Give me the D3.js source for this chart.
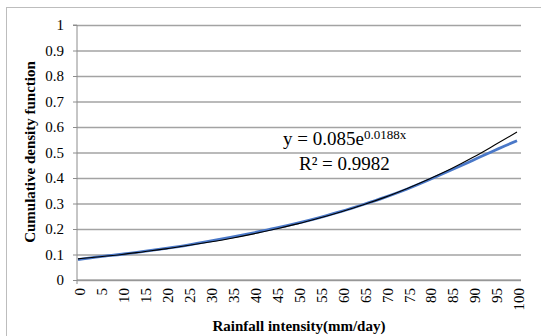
<!DOCTYPE html>
<html>
<head>
<meta charset="utf-8">
<script src="https://cdn.jsdelivr.net/npm/d3@7"></script>
<style>
  body { margin: 0; background: #fff; }
  svg, svg text { font-family: "Liberation Serif", "Times New Roman", serif !important; fill: #000; }
</style>
</head>
<body>
<script>
// categories on the x axis (rainfall intensity, mm/day)
var categories = ["0","5","10","15","20","25","30","35","40","45","50",
                  "55","60","65","70","75","80","85","90","95","100"];

// observed cumulative density (blue line)
var observed = [0.080, 0.092, 0.101, 0.112, 0.124, 0.137, 0.152, 0.168, 0.185, 0.203, 0.223,
                0.245, 0.269, 0.296, 0.325, 0.357, 0.393, 0.431, 0.470, 0.509, 0.546];

// exponential trendline (black line)
var trend = [0.083, 0.091, 0.100, 0.111, 0.122, 0.135, 0.149, 0.164, 0.181, 0.200, 0.220,
             0.243, 0.268, 0.295, 0.325, 0.359, 0.396, 0.436, 0.481, 0.530, 0.580];

var yTicks = [0, 0.1, 0.2, 0.3, 0.4, 0.5, 0.6, 0.7, 0.8, 0.9, 1];

var width = 541, height = 336;
var plot = {left: 77, right: 521, top: 25, bottom: 280};

var svg = d3.select("body").append("svg")
    .attr("width", width)
    .attr("height", height)
    .attr("font-family", "Liberation Serif");

// outer frame
svg.append("rect")
    .attr("x", 6.5).attr("y", 7.5)
    .attr("width", 545).attr("height", 340)
    .style("fill", "none")
    .style("stroke", "#bdbdbd")
    .style("stroke-width", 1);

var x = d3.scalePoint()
    .domain(categories)
    .range([plot.left + 1, plot.right - 4]);

var y = d3.scaleLinear()
    .domain([0, 1])
    .range([plot.bottom, plot.top]);

// gridlines
svg.append("g")
    .attr("class", "grid")
    .attr("transform", "translate(" + plot.left + ",0)")
    .call(d3.axisLeft(y).tickValues(yTicks).tickSize(-(plot.right - plot.left)).tickFormat(""))
    .call(function(g) { g.select(".domain").remove(); })
    .selectAll("line")
      .style("stroke", "#a3a3a3")
      .style("stroke-width", 1.4);

// y axis
var yAxis = svg.append("g")
    .attr("transform", "translate(" + plot.left + ",0)")
    .call(d3.axisLeft(y).tickValues(yTicks).tickSize(4).tickPadding(9)
          .tickFormat(function(d) { return d3.format("~g")(d); }))
    .attr("font-family", "Liberation Serif")
    .attr("font-size", 15);
yAxis.select(".domain")
    .attr("d", "M-4," + plot.top + "H0V" + (plot.bottom + 4))
    .style("stroke", "#8c8c8c");
yAxis.selectAll(".tick line").style("stroke", "#8c8c8c");

// x axis line
svg.append("line")
    .attr("x1", plot.left).attr("x2", plot.right)
    .attr("y1", plot.bottom).attr("y2", plot.bottom)
    .style("stroke", "#8c8c8c")
    .style("stroke-width", 1.2);

// x tick labels, rotated
svg.append("g")
    .selectAll("text")
    .data(categories)
    .enter().append("text")
    .attr("transform", function(d) {
        return "translate(" + (x(d) + 2) + "," + 288 + ") rotate(-90)";
    })
    .attr("dy", "0.35em")
    .style("text-anchor", "end")
    .style("font-size", "15px")
    .text(function(d) { return d; });

// lines
var line = d3.line()
    .x(function(d, i) { return x(categories[i]); })
    .y(function(d) { return y(d); })
    .curve(d3.curveMonotoneX);

svg.append("path")
    .datum(observed)
    .attr("d", line)
    .style("fill", "none")
    .style("stroke", "#4a78c8")
    .style("stroke-width", 2.8);

svg.append("path")
    .datum(trend)
    .attr("d", line)
    .style("fill", "none")
    .style("stroke", "#000")
    .style("stroke-width", 1.1);

// trendline label
var eq = svg.append("text")
    .attr("x", 283)
    .attr("y", 145)
    .style("font-size", "19px");
eq.append("tspan").text("y = 0.085e");
eq.append("tspan")
    .attr("dy", -6)
    .style("font-size", "13px")
    .text("0.0188x");

svg.append("text")
    .attr("x", 299)
    .attr("y", 170)
    .style("font-size", "19px")
    .text("R\u00b2 = 0.9982");

// axis titles
svg.append("text")
    .attr("transform", "translate(35,152) rotate(-90)")
    .style("text-anchor", "middle")
    .style("font-weight", "bold")
    .style("font-size", "15px")
    .text("Cumulative density function");

svg.append("text")
    .attr("x", 299)
    .attr("y", 331)
    .style("text-anchor", "middle")
    .style("font-weight", "bold")
    .style("font-size", "15px")
    .text("Rainfall intensity(mm/day)");
</script>
</body>
</html>
